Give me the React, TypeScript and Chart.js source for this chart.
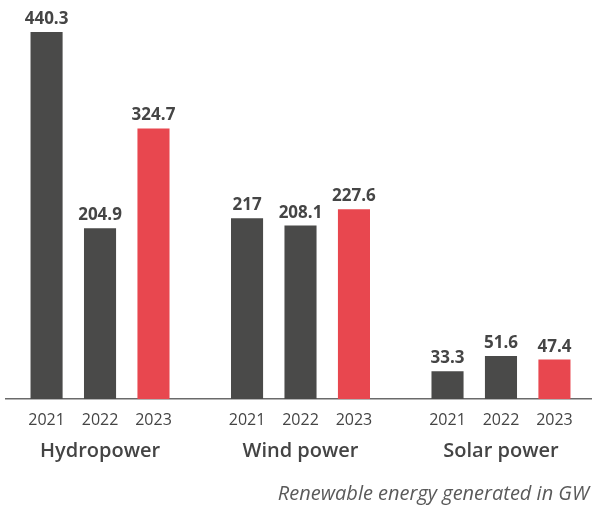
import React, { useEffect, useRef } from "react";
import { Chart, registerables } from "chart.js";

Chart.register(...registerables);

const groups = ["Hydropower", "Wind power", "Solar power"];
const years = ["2021", "2022", "2023"];
const values2021 = [440.3, 217, 33.3];
const values2022 = [204.9, 208.1, 51.6];
const values2023 = [324.7, 227.6, 47.4];
const caption = "Renewable energy generated in GW";

const DARK = "#4a4a49";
const RED = "#e8474f";
const FONT = "'Open Sans', 'Noto Sans', sans-serif";

const labelsPlugin = {
  id: "customLabels",
  afterDraw(chart: any) {
    const ctx = chart.ctx;
    const xScale = chart.scales.x;
    ctx.save();
    chart.data.datasets.forEach((ds: any, di: number) => {
      const meta = chart.getDatasetMeta(di);
      meta.data.forEach((bar: any, i: number) => {
        const v = ds.data[i].y;
        ctx.fillStyle = "#454545";
        ctx.font = `bold 17px ${FONT}`;
        ctx.textAlign = "center";
        ctx.textBaseline = "alphabetic";
        ctx.fillText(String(v), bar.x, bar.y - 8);
        ctx.font = `16px ${FONT}`;
        ctx.textBaseline = "middle";
        ctx.fillStyle = "#444";
        ctx.fillText(ds.label, bar.x, 420);
      });
    });
    groups.forEach((g, i) => {
      ctx.font = `600 20px ${FONT}`;
      ctx.fillStyle = "#444";
      ctx.textAlign = "center";
      ctx.textBaseline = "middle";
      ctx.fillText(g, xScale.getPixelForValue(i), 451);
    });
    ctx.font = `italic 20px ${FONT}`;
    ctx.fillStyle = "#5a5a5a";
    ctx.textAlign = "right";
    ctx.textBaseline = "middle";
    ctx.fillText(caption, 589, 494);
    ctx.restore();
  },
};

export default function App() {
  const ref = useRef<HTMLCanvasElement | null>(null);
  useEffect(() => {
    document.body.style.margin = "0";
    const canvas = ref.current;
    if (!canvas) return;
    const series = [values2021, values2022, values2023];
    const chart = new Chart(canvas, {
      type: "bar",
      data: {
        datasets: years.map((y, yi) => ({
          label: y,
          data: series[yi].map((v, gi) => ({ x: gi, y: v })),
          backgroundColor: yi === 2 ? RED : DARK,
          categoryPercentage: 0.8,
          barPercentage: 0.6,
        })),
      },
      options: {
        animation: false,
        responsive: false,
        events: [],
        layout: { padding: { left: 6, right: 0, top: 24, bottom: 110 } },
        plugins: { legend: { display: false }, tooltip: { enabled: false }, title: { display: false } },
        scales: {
          x: {
            type: "linear",
            offset: false,
            bounds: "data",
            min: -0.469,
            max: 2.454,
            afterBuildTicks: (axis: any) => {
              axis.ticks = [0, 1, 2].map((v) => ({ value: v }));
            },
            grid: { display: false, drawTicks: false, offset: false },
            ticks: { display: false },
            border: { display: true, color: "#6a6a6a", width: 1.5 },
          },
          y: {
            display: false,
            min: 0,
            max: 450,
          },
        },
      },
      plugins: [labelsPlugin],
    } as any);
    return () => chart.destroy();
  }, []);
  return (
    <div style={{ width: 592, height: 509 }}>
      <canvas ref={ref} width={592} height={509} />
    </div>
  );
}
